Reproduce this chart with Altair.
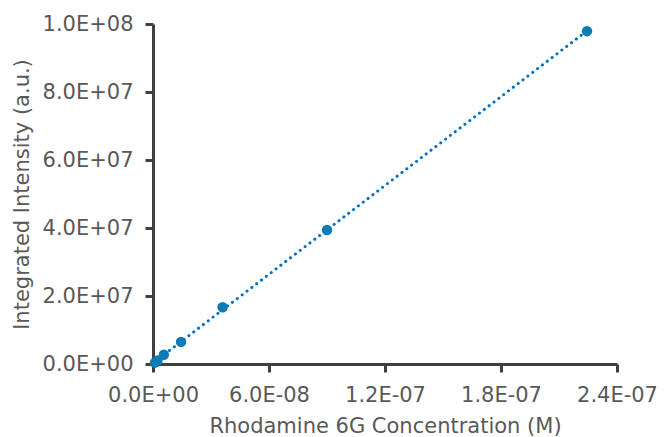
import altair as alt
import pandas as pd

conc = [1.0e-9, 2.3e-9, 5.6e-9, 1.45e-8, 3.6e-8, 9.0e-8, 2.245e-7]
intensity = [4.0e5, 1.0e6, 2.7e6, 6.5e6, 1.67e7, 3.94e7, 9.79e7]

x_ticks = [0, 6e-8, 1.2e-7, 1.8e-7, 2.4e-7]
x_labels = ["0.0E+00", "6.0E-08", "1.2E-07", "1.8E-07", "2.4E-07"]
y_ticks = [0, 2e7, 4e7, 6e7, 8e7, 1e8]
y_labels = ["0.0E+00", "2.0E+07", "4.0E+07", "6.0E+07", "8.0E+07", "1.0E+08"]

df = pd.DataFrame({"x": conc, "y": intensity})


def label_expr(ticks, labels):
    return "[" + ",".join(f"'{l}'" for l in labels) + "][indexof([" + ",".join(repr(float(t)) for t in ticks) + "], datum.value)]"


FONT = "DejaVu Sans"
TXT = "#595959"
AX = "#404040"
FS = 21
TFS = 21

xenc = alt.X("x:Q", scale=alt.Scale(domain=[0, 2.4e-7], nice=False),
             axis=alt.Axis(title="Rhodamine 6G Concentration (M)", values=x_ticks,
                           labelExpr=label_expr(x_ticks, x_labels), grid=False,
                           labelFlush=False, labelOverlap=False,
                           domainColor=AX, domainWidth=3, tickColor=AX, tickWidth=3, tickSize=8,
                           labelFont=FONT, labelFontSize=FS, labelColor=TXT, labelPadding=12,
                           titleFont=FONT, titleFontSize=TFS, titleColor=TXT, titleFontWeight="normal",
                           titlePadding=10))
yenc = alt.Y("y:Q", scale=alt.Scale(domain=[0, 1e8], nice=False),
             axis=alt.Axis(title="Integrated Intensity (a.u.)", values=y_ticks,
                           labelExpr=label_expr(y_ticks, y_labels), grid=False,
                           labelFlush=False, labelOverlap=False,
                           domainColor=AX, domainWidth=3, tickColor=AX, tickWidth=3, tickSize=8,
                           labelFont=FONT, labelFontSize=FS, labelColor=TXT, labelPadding=12,
                           titleFont=FONT, titleFontSize=TFS, titleColor=TXT, titleFontWeight="normal",
                           titlePadding=10))

base = alt.Chart(df)
trend = base.transform_regression("x", "y", method="linear").mark_line(
    color="#0070C0", strokeWidth=3, strokeDash=[0.1, 6], strokeCap="round"
).encode(x=xenc, y=yenc)
pts = base.mark_circle(color="#0E7BB5", opacity=1, size=110).encode(x=xenc, y=yenc)

chart = alt.layer(trend, pts).properties(
    width=464, height=340,
    autosize=alt.AutoSizeParams(type="none"),
    padding={"left": 145, "top": 16, "right": 40, "bottom": 76},
).configure_view(stroke=None)

chart.save("out.html", embed_options={"renderer": "svg", "actions": False})
